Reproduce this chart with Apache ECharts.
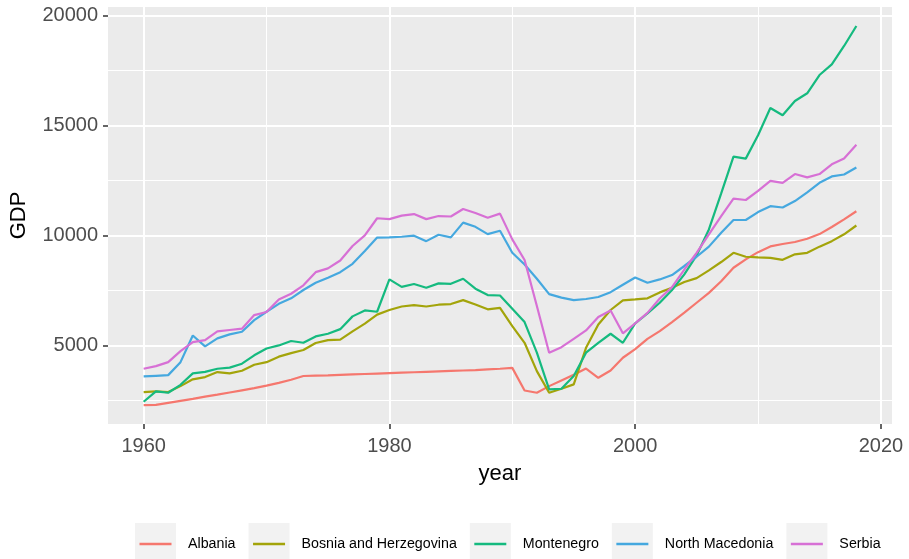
<!DOCTYPE html>
<html>
<head>
<meta charset="utf-8">
<title>GDP per capita, Western Balkans</title>
<script src="https://cdn.jsdelivr.net/npm/echarts@6/dist/echarts.min.js"></script>
<style>
  html, body { margin: 0; padding: 0; background: #ffffff; }
  #chart { width: 909px; height: 559px; }
</style>
</head>
<body>
<div id="chart"></div>
<script>
// Years covered by every series
const years = [];
for (let y = 1960; y <= 2018; y++) years.push(y);

const countries = ['Albania', 'Bosnia and Herzegovina', 'Montenegro', 'North Macedonia', 'Serbia'];

const albania = [
  2290, 2300, 2390, 2480, 2570, 2670, 2760, 2860, 2960, 3060,
  3170, 3300, 3440, 3610, 3630, 3640, 3660, 3680, 3700, 3720,
  3740, 3760, 3780, 3800, 3820, 3840, 3860, 3880, 3910, 3940,
  3980, 2950, 2850, 3150, 3410, 3670, 3950, 3530, 3860, 4440,
  4830, 5300, 5650, 6060, 6490, 6940, 7390, 7920, 8530, 8910,
  9240, 9500, 9610, 9700, 9850, 10060, 10380, 10730, 11100
];
const bosnia = [
  2880, 2910, 2880, 3150, 3460, 3560, 3790, 3730, 3850, 4120,
  4240, 4490, 4650, 4790, 5110, 5240, 5260, 5640, 5990, 6400,
  6610, 6770, 6830, 6770, 6850, 6880, 7060, 6860, 6640, 6710,
  5880, 5120, 3830, 2850, 3030, 3230, 4890, 5950, 6610, 7050,
  7090, 7140, 7410, 7620, 7880, 8060, 8410, 8790, 9210, 9030,
  9000, 8980, 8890, 9140, 9210, 9490, 9740, 10050, 10450
];
const montenegro = [
  2440, 2910, 2850, 3210, 3730, 3800, 3940, 3990, 4170, 4550,
  4860, 5000, 5200, 5120, 5410, 5530, 5740, 6320, 6590, 6530,
  8000, 7660, 7790, 7620, 7820, 7800, 8030, 7580, 7290, 7270,
  6670, 6060, 4670, 3000, 3030, 3610, 4670, 5120, 5530, 5120,
  6000, 6450, 6940, 7520, 8230, 9090, 10270, 11910, 13580, 13490,
  14550, 15790, 15460, 16110, 16460, 17290, 17770, 18610, 19520
];
const northMacedonia = [
  3590, 3620, 3650, 4240, 5450, 4960, 5320, 5500, 5620, 6150,
  6530, 6890, 7140, 7520, 7850, 8080, 8330, 8710, 9290, 9900,
  9910, 9940, 9990, 9740, 10030, 9910, 10580, 10390, 10060, 10210,
  9210, 8680, 8030, 7330, 7170, 7060, 7110, 7200, 7420, 7760,
  8090, 7850, 8000, 8200, 8610, 9030, 9490, 10120, 10700, 10700,
  11060, 11330, 11270, 11560, 11960, 12390, 12680, 12770, 13090
];
const serbia = [
  3940, 4060, 4240, 4740, 5150, 5240, 5640, 5700, 5760, 6380,
  6520, 7090, 7350, 7730, 8330, 8500, 8860, 9520, 10000, 10780,
  10740, 10900, 10970, 10740, 10880, 10860, 11200, 11020, 10800, 10990,
  9820, 8880, 6790, 4670, 4920, 5300, 5680, 6290, 6590, 5550,
  6000, 6480, 7130, 7650, 8450, 9210, 10050, 10880, 11670, 11610,
  12020, 12480, 12390, 12790, 12640, 12790, 13230, 13500, 14120
];

const seriesValues = [albania, bosnia, montenegro, northMacedonia, serbia];
const palette = ['#F5776E', '#A3A40A', '#15BA7F', '#45A8DF', '#D770D5'];

// Axis breaks
const xMajor = [1960, 1980, 2000, 2020];
const xMinor = [1970, 1990, 2010];
const yMajor = [5000, 10000, 15000, 20000];
const yMinor = [2500, 7500, 12500, 17500];

// Continuous scales padded by 5% of the data range on each side
function padded(lo, hi) {
  const d = (hi - lo) * 0.05;
  return [lo - d, hi + d];
}
const allValues = [].concat(...seriesValues);
const [xMin, xMax] = padded(years[0], years[years.length - 1]);
const [yMin, yMax] = padded(Math.min(...allValues), Math.max(...allValues));

const FONT = 'Liberation Sans, Arial, sans-serif';

// White panel grid lines (major and minor), drawn underneath the data
function gridSeries(name, xs, ys, width) {
  return {
    name: name,
    type: 'line',
    z: 1,
    data: [],
    silent: true,
    markLine: {
      z: 1,
      silent: true,
      symbol: 'none',
      label: { show: false },
      lineStyle: { color: '#FFFFFF', type: 'solid', width: width },
      emphasis: { disabled: true },
      data: xs.map(v => ({ xAxis: v })).concat(ys.map(v => ({ yAxis: v })))
    }
  };
}

const lineSeries = countries.map((name, i) => ({
  name: name,
  type: 'line',
  z: 3,
  showSymbol: false,
  symbol: 'none',
  color: palette[i],
  lineStyle: { width: 2.2, color: palette[i] },
  data: years.map((yr, k) => [yr, seriesValues[i][k]])
}));

const legendCommon = {
  data: countries,
  orient: 'horizontal',
  left: 135,
  top: 523,
  itemWidth: 41,
  itemHeight: 42,
  itemGap: 13,
  selectedMode: false,
  padding: 0
};

const chart = echarts.init(document.getElementById('chart'), null, { renderer: 'canvas' });
chart.setOption({
  animation: false,
  backgroundColor: '#ffffff',
  textStyle: { fontFamily: FONT },
  grid: {
    left: 108, right: 17, top: 7, bottom: 135,
    show: true, backgroundColor: '#EBEBEB', borderWidth: 0
  },
  xAxis: {
    type: 'value',
    min: xMin, max: xMax,
    name: 'year',
    nameLocation: 'middle',
    nameGap: 39,
    nameTextStyle: { fontSize: 22, color: '#000000', fontFamily: FONT },
    axisLine: { show: false },
    axisTick: { show: true, length: 5, customValues: xMajor, lineStyle: { color: '#333333', width: 1.5 } },
    axisLabel: {
      customValues: xMajor, margin: 12, fontSize: 20, color: '#4D4D4D', fontFamily: FONT,
      formatter: v => String(v)
    },
    splitLine: { show: false }
  },
  yAxis: {
    type: 'value',
    min: yMin, max: yMax,
    name: 'GDP',
    nameLocation: 'middle',
    nameGap: 78,
    nameTextStyle: { fontSize: 22, color: '#000000', fontFamily: FONT },
    axisLine: { show: false },
    axisTick: { show: true, length: 5, customValues: yMajor, lineStyle: { color: '#333333', width: 1.5 } },
    axisLabel: {
      customValues: yMajor, margin: 10, fontSize: 20, color: '#4D4D4D', fontFamily: FONT,
      formatter: v => String(v)
    },
    splitLine: { show: false }
  },
  legend: [
    Object.assign({}, legendCommon, {
      z: 3,
      icon: 'rect',
      itemStyle: { color: '#F2F2F2', borderWidth: 0 },
      textStyle: { fontSize: 14.25, color: 'rgba(0,0,0,0)', fontFamily: FONT, padding: [0, 0, 0, 7] }
    }),
    Object.assign({}, legendCommon, {
      z: 4,
      icon: 'path://M0,0L0,0M41,42L41,42M4.5,19.8h32v2.4h-32Z',
      itemStyle: { borderWidth: 0 },
      textStyle: { fontSize: 14.25, color: '#000000', fontFamily: FONT, padding: [0, 0, 0, 7] }
    })
  ],
  series: [
    gridSeries('major', xMajor, yMajor, 2),
    gridSeries('minor', xMinor, yMinor, 1)
  ].concat(lineSeries)
});
</script>
</body>
</html>
